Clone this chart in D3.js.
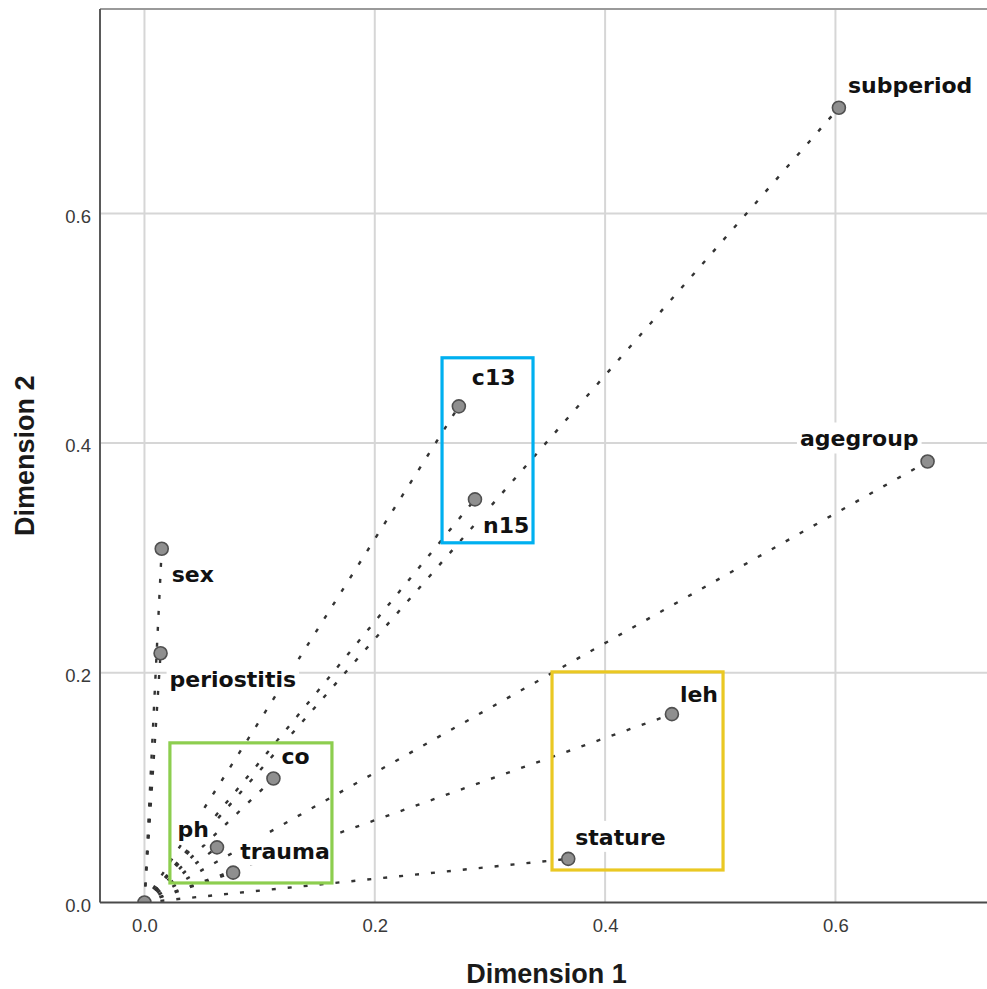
<!DOCTYPE html>
<html>
<head>
<meta charset="utf-8">
<script src="https://cdn.jsdelivr.net/npm/d3@7/dist/d3.min.js"></script>
<style>
  html, body { margin: 0; padding: 0; background: #fff; }
  svg { display: block; }
</style>
</head>
<body>
<div id="chart"></div>
<script>
// Discrimination measures: variable loadings on the two dimensions
const variables = ["subperiod", "agegroup", "c13", "n15", "sex", "periostitis", "co", "ph", "trauma", "leh", "stature"];
const dimension1 = [0.603, 0.680, 0.273, 0.287, 0.015, 0.014, 0.112, 0.063, 0.077, 0.458, 0.368];
const dimension2 = [0.692, 0.384, 0.432, 0.351, 0.308, 0.217, 0.108, 0.048, 0.026, 0.164, 0.038];

const xTicks = [0.0, 0.2, 0.4, 0.6];
const yTicks = [0.0, 0.2, 0.4, 0.6];

// Highlight groups (data ranges on both dimensions)
const groupNames = ["isotopes", "growth", "oral"];
const groupX = [[0.2584, 0.3374], [0.3539, 0.5024], [0.0221, 0.1628]];
const groupY = [[0.3132, 0.4743], [0.0283, 0.2008], [0.0170, 0.1390]];
const groupColors = ["#00b0f0", "#eac823", "#8dce4f"];

const W = 987, H = 989;
const plot = { left: 100, right: 987, top: 9, bottom: 902.5 };

const x = d3.scaleLinear().domain([-0.0386, 0.7316]).range([plot.left, plot.right]);
const y = d3.scaleLinear().domain([0, 0.778]).range([plot.bottom, plot.top]);

const svg = d3.select("#chart").append("svg")
  .attr("width", W).attr("height", H);

svg.append("defs").append("clipPath").attr("id", "plotClip")
  .append("rect")
  .attr("x", plot.left).attr("y", plot.top)
  .attr("width", plot.right - plot.left).attr("height", plot.bottom - plot.top);

// Grid lines
const grid = svg.append("g");
grid.selectAll("line.vx").data(xTicks).join("line")
  .attr("x1", d => x(d)).attr("x2", d => x(d))
  .attr("y1", plot.top).attr("y2", plot.bottom)
  .attr("stroke", "#d6d6d6").attr("stroke-width", 2);
grid.selectAll("line.hy").data(yTicks.filter(d => d > 0)).join("line")
  .attr("x1", plot.left).attr("x2", plot.right)
  .attr("y1", d => y(d)).attr("y2", d => y(d))
  .attr("stroke", "#d6d6d6").attr("stroke-width", 2);

// Frame: top edge, left edge
svg.append("line")
  .attr("x1", plot.left).attr("x2", plot.right)
  .attr("y1", plot.top).attr("y2", plot.top)
  .attr("stroke", "#9a9a9a").attr("stroke-width", 2);
svg.append("line")
  .attr("x1", plot.left).attr("x2", plot.left)
  .attr("y1", plot.top).attr("y2", plot.bottom)
  .attr("stroke", "#5a5a5a").attr("stroke-width", 2);

const points = variables.map((name, i) => ({ name, d1: dimension1[i], d2: dimension2[i] }));

// Label placement relative to each point
const labelPlace = {
  subperiod:   { dx: 9,  dy: -15, anchor: "start" },
  agegroup:    { dx: -9, dy: -15, anchor: "end" },
  c13:         { dx: 13, dy: -21, anchor: "start" },
  n15:         { dx: 8,  dy: 34,  anchor: "start" },
  sex:         { dx: 10, dy: 33,  anchor: "start" },
  periostitis: { dx: 9,  dy: 34,  anchor: "start" },
  co:          { dx: 8,  dy: -14, anchor: "start" },
  ph:          { dx: -8, dy: -10, anchor: "end" },
  trauma:      { dx: 7,  dy: -14, anchor: "start" },
  leh:         { dx: 8,  dy: -12, anchor: "start" },
  stature:     { dx: 7,  dy: -14, anchor: "start" }
};

const plotLayer = svg.append("g").attr("clip-path", "url(#plotClip)");

// Dotted vectors from the origin
plotLayer.selectAll("line.vec").data(points).join("line")
  .attr("x1", x(0)).attr("y1", y(0))
  .attr("x2", d => x(d.d1)).attr("y2", d => y(d.d2))
  .attr("stroke", "#333").attr("stroke-width", 2.4)
  .attr("stroke-dasharray", "4,12");

// Label backgrounds (mask grid and vector lines behind the text)
const bgLayer = svg.append("g");

// Group boxes
svg.selectAll("rect.group").data(groupNames).join("rect")
  .attr("x", (d, i) => x(groupX[i][0]))
  .attr("y", (d, i) => y(groupY[i][1]))
  .attr("width", (d, i) => x(groupX[i][1]) - x(groupX[i][0]))
  .attr("height", (d, i) => y(groupY[i][0]) - y(groupY[i][1]))
  .attr("fill", "none")
  .attr("stroke", (d, i) => groupColors[i])
  .attr("stroke-width", 3.2);

// Points (origin included)
svg.append("g").attr("clip-path", "url(#plotClip)")
  .selectAll("circle.pt").data([{ name: "", d1: 0, d2: 0 }].concat(points)).join("circle")
  .attr("cx", d => x(d.d1)).attr("cy", d => y(d.d2))
  .attr("r", 6.5)
  .attr("fill", "#8f8f8f").attr("stroke", "#505050").attr("stroke-width", 1.6);

// Point labels
const labels = svg.append("g").selectAll("text").data(points).join("text")
  .attr("x", d => x(d.d1) + labelPlace[d.name].dx)
  .attr("y", d => y(d.d2) + labelPlace[d.name].dy)
  .attr("text-anchor", d => labelPlace[d.name].anchor)
  .attr("font-family", "'DejaVu Sans', sans-serif")
  .attr("font-weight", "bold")
  .attr("font-size", 22)
  .attr("fill", "#111")
  .text(d => d.name);

labels.each(function () {
  const b = this.getBBox();
  bgLayer.append("rect")
    .attr("x", b.x - 3).attr("y", b.y - 4)
    .attr("width", b.width + 6).attr("height", b.height + 6)
    .attr("fill", "#fff");
});

// Axes
const fmt = d3.format(".1f");
const xAxis = svg.append("g")
  .attr("transform", `translate(0,${plot.bottom})`)
  .call(d3.axisBottom(x).tickValues(xTicks).tickFormat(fmt).tickSize(0).tickPadding(16.5));
xAxis.select(".domain").remove();
xAxis.append("line")
  .attr("x1", plot.left).attr("x2", plot.right)
  .attr("stroke", "#4a4a4a").attr("stroke-width", 2);

const yAxis = svg.append("g")
  .attr("transform", `translate(${plot.left},0)`)
  .call(d3.axisLeft(y).tickValues(yTicks).tickFormat(fmt).tickSize(0).tickPadding(9));
yAxis.select(".domain").remove();
yAxis.selectAll("text").attr("dy", "0.47em");

svg.selectAll(".tick text")
  .attr("font-family", "'Liberation Sans', Arial, sans-serif")
  .attr("font-size", 18.5)
  .attr("fill", "#3a3a3a");

// Axis titles
svg.append("text")
  .attr("x", (plot.left + plot.right) / 2 + 3)
  .attr("y", 983)
  .attr("text-anchor", "middle")
  .attr("font-family", "'Liberation Sans', Arial, sans-serif")
  .attr("font-weight", "bold")
  .attr("font-size", 27)
  .attr("fill", "#1a1a1a")
  .text("Dimension 1");

svg.append("text")
  .attr("transform", `translate(34,${(plot.top + plot.bottom) / 2}) rotate(-90)`)
  .attr("text-anchor", "middle")
  .attr("font-family", "'Liberation Sans', Arial, sans-serif")
  .attr("font-weight", "bold")
  .attr("font-size", 27)
  .attr("fill", "#1a1a1a")
  .text("Dimension 2");
</script>
</body>
</html>
